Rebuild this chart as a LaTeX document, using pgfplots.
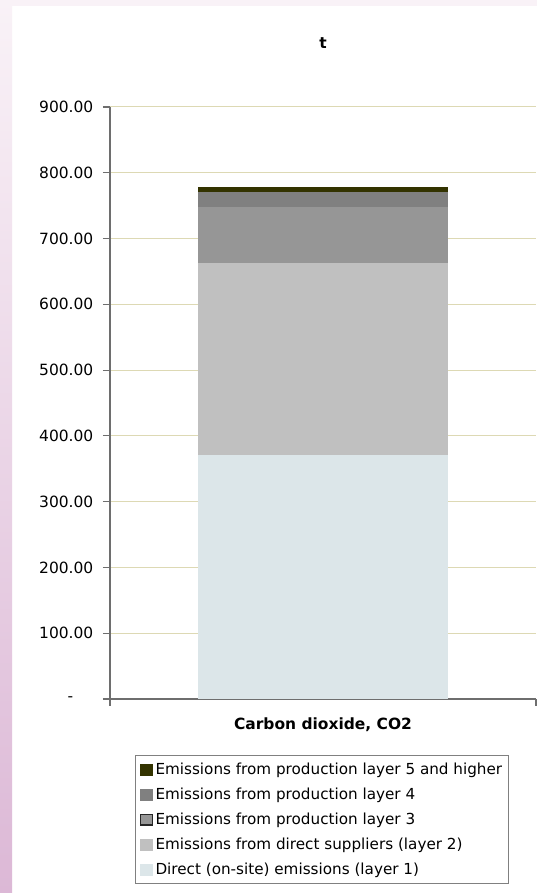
\documentclass[border=0pt]{standalone}
\usepackage{pgfplots}
\pgfplotsset{compat=1.18}
\usepackage{fontspec}
\setmainfont{DejaVu Sans}
\definecolor{cA}{RGB}{220,230,233}
\definecolor{cB}{RGB}{192,192,192}
\definecolor{cC}{RGB}{150,150,150}
\definecolor{cD}{RGB}{128,128,128}
\definecolor{cE}{RGB}{51,51,0}
\definecolor{gridc}{RGB}{221,217,180}
\definecolor{axc}{RGB}{110,110,110}
\definecolor{pinkT}{RGB}{249,242,247}
\definecolor{pinkB}{RGB}{220,184,214}
\begin{document}
\begin{tikzpicture}
\fill[white] (0,0) rectangle (402.75pt,669.75pt);
\shade[top color=pinkT, bottom color=pinkB] (0,0) rectangle (9pt,669.75pt);
\fill[pinkT] (9pt,665.25pt) rectangle (402.75pt,669.75pt);
\begin{axis}[
  at={(82.5pt,145.5pt)}, anchor=south west,
  scale only axis, width=319.5pt, height=444pt,
  font=\fontsize{11.6pt}{13.5pt}\selectfont,
  ybar stacked, bar width=0.587,
  xmin=-0.5, xmax=0.5, ymin=0, ymax=900,
  axis lines*=left,
  axis line style={draw=axc, line width=0.8pt},
  ytick={0,100,...,900},
  yticklabels={-\kern15pt,100.00,200.00,300.00,400.00,500.00,600.00,700.00,800.00,900.00},
  yticklabel style={xshift=-3.75pt},
  xtick={-0.5,0.5}, xticklabels={},
  tick align=outside, major tick length=5.25pt,
  tick style={draw=axc, line width=0.8pt},
  ymajorgrids, grid style={draw=gridc, line width=0.75pt},
  /pgf/number format/assume math mode=true,
  title={\textbf{t}},
  title style={at={(axis description cs:0.5,1)}, anchor=center, yshift=42pt},
  xlabel={\textbf{Carbon dioxide, CO2}},
  xlabel style={at={(axis description cs:0.5,0)}, anchor=center, yshift=-19.5pt},
  reverse legend,
  legend cell align=left,
  legend image code/.code={\fill[#1] (0pt,-4.5pt) rectangle (10pt,4.5pt);},
  legend style={at={(axis description cs:0.0587,-0.0946)}, anchor=north west,
    draw=gray, line width=0.75pt, font=\fontsize{11.4pt}{13.5pt}\selectfont,
    row sep=4.6pt, inner xsep=3pt, inner ysep=3.5pt},
]
\addplot[fill=cA, draw=none] coordinates {(0,371)};
\addlegendentry{Direct (on-site) emissions (layer 1)}
\addplot[fill=cB, draw=none] coordinates {(0,292)};
\addlegendentry{Emissions from direct suppliers (layer 2)}
\addplot[fill=cC, draw=none, legend image code/.code={\filldraw[fill=cC, draw=black!85, line width=0.9pt] (0.5pt,-4pt) rectangle (9.5pt,4pt);}] coordinates {(0,85)};
\addlegendentry{Emissions from production layer 3}
\addplot[fill=cD, draw=none] coordinates {(0,23)};
\addlegendentry{Emissions from production layer 4}
\addplot[fill=cE, draw=none] coordinates {(0,8)};
\addlegendentry{Emissions from production layer 5 and higher}
\end{axis}
\pgfresetboundingbox
\useasboundingbox (0,0) rectangle (402.75pt,669.75pt);
\end{tikzpicture}
\end{document}
